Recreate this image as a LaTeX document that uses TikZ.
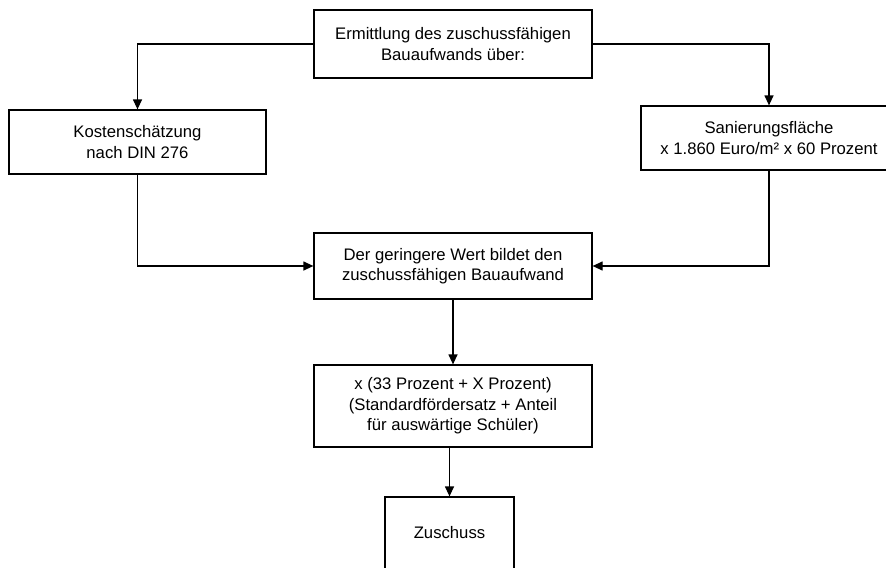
\documentclass[tikz,border=0pt]{standalone}
\usepackage{fontspec}
\setmainfont{Liberation Sans}
\usetikzlibrary{arrows.meta, positioning}

\begin{document}
\begin{tikzpicture}[
    every node/.style={font=\fontsize{9.5}{11.7}\selectfont},
    box/.style={rectangle, draw, line width=0.7pt, align=center, inner sep=2pt},
    arrow/.style={-{Triangle[length=2mm, width=1.8mm]}, line width=0.7pt}
]
\useasboundingbox (0, 0) rectangle (17.72, -11.34);

% Start
\node[box, minimum width=5.56cm, minimum height=1.36cm] (start) at (9.06, -0.88) {Ermittlung des zuschussfähigen\\Bauaufwands über:};

% Two ways
\node[box, minimum width=5.14cm, minimum height=1.28cm] (kosten) at (2.75, -2.84) {Kostenschätzung\\nach DIN 276};
\node[box, minimum width=5.12cm, minimum height=1.28cm] (flaeche) at (15.38, -2.76) {Sanierungsfläche\\x 1.860 Euro/m² x 60 Prozent};

% Result
\node[box, minimum width=5.56cm, minimum height=1.32cm] (wert) at (9.06, -5.32) {Der geringere Wert bildet den\\zuschussfähigen Bauaufwand};
\node[box, minimum width=5.56cm, minimum height=1.64cm] (satz) at (9.06, -8.12) {x (33 Prozent + X Prozent)\\(Standardfördersatz + Anteil\\für auswärtige Schüler)};
\node[box, minimum width=2.58cm, minimum height=1.44cm] (zuschuss) at (8.99, -10.66) {Zuschuss};

% Arrows
\draw[arrow] (start.west) -| (kosten.north);
\draw[arrow] (start.east) -| (flaeche.north);
\draw[arrow] (kosten.south) |- (wert.west);
\draw[arrow] (flaeche.south) |- (wert.east);
\draw[arrow] (wert.south) -- (satz.north);
\draw[arrow] (satz.south -| zuschuss.north) -- (zuschuss.north);

\end{tikzpicture}
\end{document}
